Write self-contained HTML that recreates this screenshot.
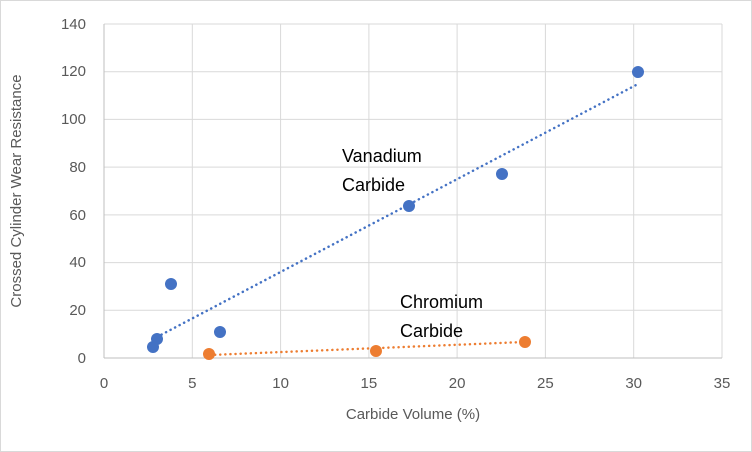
<!DOCTYPE html>
<html><head><style>body{margin:0;background:#fff}svg{display:block}</style></head><body>
<svg width="752" height="452" xmlns="http://www.w3.org/2000/svg" font-family="Liberation Sans, sans-serif">
<rect x="0.5" y="0.5" width="751" height="451" fill="#fff" stroke="#d9d9d9"/>
<g stroke="#d9d9d9" stroke-width="1">
<line x1="104" y1="24" x2="722" y2="24"/><line x1="104" y1="71.7" x2="722" y2="71.7"/>
<line x1="104" y1="119.4" x2="722" y2="119.4"/><line x1="104" y1="167.1" x2="722" y2="167.1"/>
<line x1="104" y1="214.9" x2="722" y2="214.9"/><line x1="104" y1="262.6" x2="722" y2="262.6"/>
<line x1="104" y1="310.3" x2="722" y2="310.3"/>
<line x1="192.3" y1="24" x2="192.3" y2="358"/><line x1="280.6" y1="24" x2="280.6" y2="358"/>
<line x1="368.9" y1="24" x2="368.9" y2="358"/><line x1="457.1" y1="24" x2="457.1" y2="358"/>
<line x1="545.4" y1="24" x2="545.4" y2="358"/><line x1="633.7" y1="24" x2="633.7" y2="358"/>
<line x1="722" y1="24" x2="722" y2="358"/>
</g>
<line x1="104" y1="358" x2="722" y2="358" stroke="#bfbfbf"/>
<line x1="104" y1="24" x2="104" y2="358" stroke="#bfbfbf"/>
<g font-size="15" fill="#595959" text-anchor="end">
<text x="86" y="363">0</text><text x="86" y="315">20</text><text x="86" y="267">40</text>
<text x="86" y="220">60</text><text x="86" y="172">80</text><text x="86" y="124">100</text>
<text x="86" y="76">120</text><text x="86" y="29">140</text>
</g>
<g font-size="15" fill="#595959" text-anchor="middle">
<text x="104" y="388">0</text><text x="192.3" y="388">5</text><text x="280.6" y="388">10</text>
<text x="368.9" y="388">15</text><text x="457.1" y="388">20</text><text x="545.4" y="388">25</text>
<text x="633.7" y="388">30</text><text x="722" y="388">35</text>
<text x="413" y="419">Carbide Volume (%)</text>
<text transform="translate(21,191) rotate(-90)">Crossed Cylinder Wear Resistance</text>
</g>
<line x1="157" y1="337" x2="638" y2="84" stroke="#4472c4" stroke-width="2.5" stroke-dasharray="0.1,5" stroke-linecap="round"/>
<line x1="210" y1="355" x2="524" y2="342" stroke="#ed7d31" stroke-width="2.5" stroke-dasharray="0.1,5" stroke-linecap="round"/>
<g fill="#4472c4">
<circle cx="153" cy="347" r="6"/><circle cx="157" cy="339" r="6"/><circle cx="171" cy="284" r="6"/>
<circle cx="220" cy="332" r="6"/><circle cx="409" cy="206" r="6"/><circle cx="502" cy="174" r="6"/>
<circle cx="638" cy="72" r="6"/>
</g>
<g fill="#ed7d31">
<circle cx="209" cy="354" r="6"/><circle cx="376" cy="351" r="6"/><circle cx="525" cy="342" r="6"/>
</g>
<g font-size="18" fill="#000">
<text x="342" y="162">Vanadium</text><text x="342" y="191">Carbide</text>
<text x="400" y="308">Chromium</text><text x="400" y="337">Carbide</text>
</g>
</svg>
</body></html>
